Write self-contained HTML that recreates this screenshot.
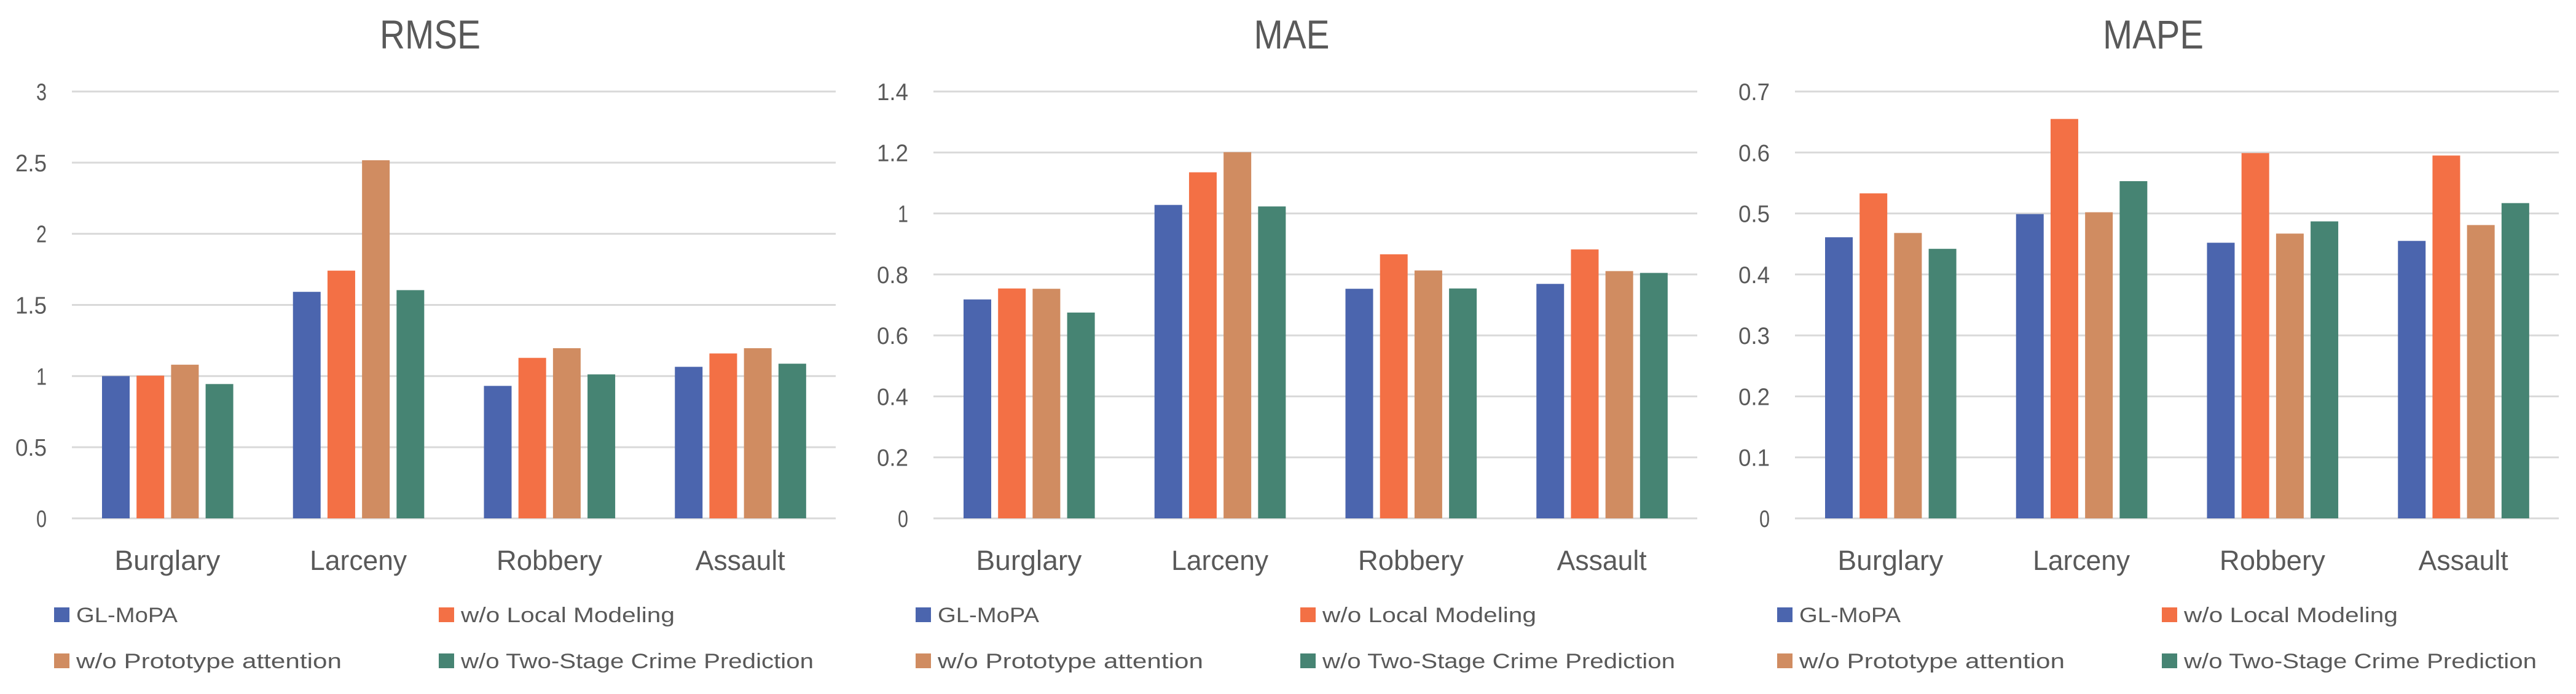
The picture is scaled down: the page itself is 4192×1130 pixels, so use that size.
<!DOCTYPE html>
<html><head><meta charset="utf-8">
<style>
html,body{margin:0;padding:0;background:#fff;}
svg{display:block;}
text{font-family:"Liberation Sans",sans-serif;fill:#595959;}
</style></head>
<body>
<svg id="chart" width="4192" height="1130" viewBox="0 0 4192 1130" xmlns="http://www.w3.org/2000/svg"></svg>
<script>
const categories = ["Burglary","Larceny","Robbery","Assault"];
const seriesNames = ["GL-MoPA","w/o Local Modeling","w/o Prototype attention","w/o Two-Stage Crime Prediction"];
const seriesColors = ["#4B65AE","#F37045","#D08C61","#468473"];
const panelTitles = ["RMSE","MAE","MAPE"];
// values per panel: [series][category]
const rmseGL = [1.00,1.592,0.931,1.065];
const rmseLocal = [1.003,1.741,1.128,1.159];
const rmseProto = [1.08,2.517,1.196,1.196];
const rmseTwo = [0.944,1.604,1.012,1.087];
const maeGL = [0.718,1.028,0.753,0.769];
const maeLocal = [0.754,1.135,0.866,0.882];
const maeProto = [0.753,1.201,0.813,0.811];
const maeTwo = [0.675,1.023,0.754,0.805];
const mapeGL = [0.461,0.499,0.452,0.455];
const mapeLocal = [0.533,0.655,0.599,0.595];
const mapeProto = [0.468,0.502,0.467,0.481];
const mapeTwo = [0.442,0.553,0.487,0.517];
const rmseTicks = ["0","0.5","1","1.5","2","2.5","3"];
const maeTicks = ["0","0.2","0.4","0.6","0.8","1","1.2","1.4"];
const mapeTicks = ["0","0.1","0.2","0.3","0.4","0.5","0.6","0.7"];

const NS="http://www.w3.org/2000/svg";
const svg=document.getElementById('chart');
function mk(tag,attrs,parent){const e=document.createElementNS(NS,tag);for(const k in attrs)e.setAttribute(k,attrs[k]);(parent||svg).appendChild(e);return e;}

const panels=[
  {gx:117,title:"RMSE",data:[rmseGL,rmseLocal,rmseProto,rmseTwo],ticks:rmseTicks,max:3},
  {gx:1519,title:"MAE",data:[maeGL,maeLocal,maeProto,maeTwo],ticks:maeTicks,max:1.4},
  {gx:2921,title:"MAPE",data:[mapeGL,mapeLocal,mapeProto,mapeTwo],ticks:mapeTicks,max:0.7}
];
const plotW=1243, y0=844, yTop=149;
const catW=plotW/categories.length;
const barW=45, barStep=56.2, barOff=49;
const catWidths=[172,158,172,146];
const legendWidths=[165,348,432,574];

panels.forEach((p,pi)=>{
  const g=mk('g',{});
  
  
  const yScale=v=>y0-(v/p.max)*(y0-yTop);
  // title
  const t=mk('text',{x:p.gx+583,y:79,'text-anchor':'middle','font-size':66,textLength:p.title.length*41,lengthAdjust:'spacingAndGlyphs'},g);
  t.textContent=p.title;
  
  
  // gridlines + tick labels
  p.ticks.forEach(tk=>{
    const y=yScale(parseFloat(tk));
    const l=mk('rect',{x:p.gx,y:y-1.5,width:plotW,height:3,fill:'#D9D9D9'},g);
    
    
    const tl=mk('text',{x:p.gx-41,y:y+14,'text-anchor':'end','font-size':39,textLength:tk.length*17,lengthAdjust:'spacingAndGlyphs'},g);
    tl.textContent=tk;
    
    
  });
  // bars
  categories.forEach((c,ci)=>{
    const cx=p.gx+ci*catW;
    p.data.forEach((ser,si)=>{
      const v=ser[ci];
      const y=yScale(v);
      const b=mk('rect',{x:cx+barOff+si*barStep,y:y,width:barW,height:y0-y,fill:seriesColors[si]},g);
      
      
    });
    const cl=mk('text',{x:cx+catW/2,y:928,'text-anchor':'middle','font-size':45,textLength:catWidths[ci],lengthAdjust:'spacingAndGlyphs'},g);
    cl.textContent=c;
    
    
  });
  // legend
  seriesNames.forEach((n,si)=>{
    const col=si%2,row=Math.floor(si/2);
    const lx=p.gx-29+col*626, ly=989+row*75;
    const lg=mk('g',{},g);
    
    
    mk('rect',{x:lx,y:ly,width:25,height:24,fill:seriesColors[si]},lg);
    const lt=mk('text',{x:lx+36,y:ly+24,'font-size':34,textLength:legendWidths[si],lengthAdjust:'spacingAndGlyphs'},lg);
    lt.textContent=n;
  });
});
</script>
</body></html>
